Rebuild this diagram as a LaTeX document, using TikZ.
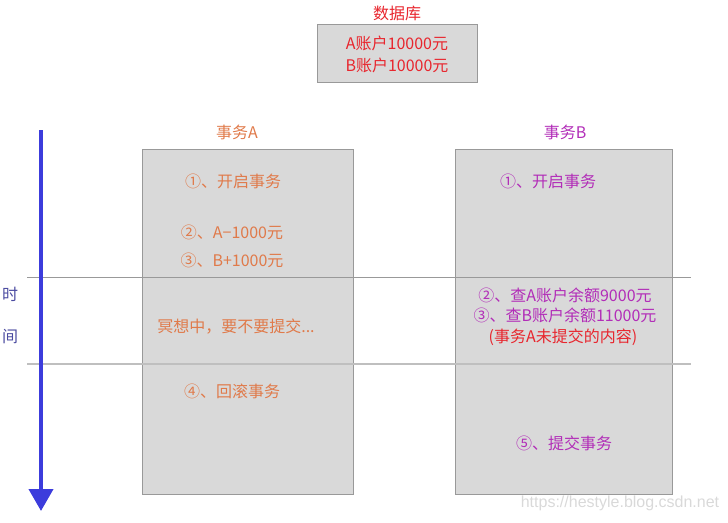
\documentclass[tikz,border=0pt]{standalone}
\usepackage{fontspec}
\setmainfont{Noto Sans CJK SC}
\newfontfamily\wmfont{Liberation Sans}
\usetikzlibrary{arrows.meta}
\definecolor{boxfill}{HTML}{D9D9D9}
\definecolor{boxline}{HTML}{999999}
\definecolor{txtred}{HTML}{E8262E}
\definecolor{txtorange}{HTML}{E07A4A}
\definecolor{txtpurple}{HTML}{B22DB8}
\definecolor{arrowblue}{HTML}{3C3CDC}
\definecolor{timetxt}{HTML}{4A4AA0}
\begin{document}
\begin{tikzpicture}[x=1pt,y=-1pt,
  panel/.style={draw=boxline,fill=boxfill,line width=1pt,inner sep=0pt,anchor=north west},
  lbl/.style={font=\fontsize{16}{19}\selectfont,inner sep=0pt},
  orangetxt/.style={lbl,text=txtorange},
  purpletxt/.style={lbl,text=txtpurple},
  redtxt/.style={lbl,text=txtred}]
\useasboundingbox (0,0) rectangle (728,522);
% database
\node[redtxt] (dbtitle) at (397,13) {数据库};
\node[panel,minimum width=160pt,minimum height=58pt] (db) at (317,24) {};
\node[redtxt] (dba) at (397,43) {A账户10000元};
\node[redtxt] (dbb) at (397,65) {B账户10000元};
% transaction panels
\node[orangetxt] (ta) at (237,132) {事务A};
\node[purpletxt] (tb) at (565,132) {事务B};
\node[panel,minimum width=211pt,minimum height=345pt] (boxa) at (142,149) {};
\node[panel,minimum width=217pt,minimum height=345pt] (boxb) at (455,149) {};
% separator lines
\coordinate (l1s) at (27,277); \coordinate (l1e) at (691,277);
\coordinate (l2s) at (27,364); \coordinate (l2e) at (691,364);
\draw[boxline,line width=1pt] (l1s) -- (l1e);
\draw[color=black!25,line width=1.6pt] (l2s) -- (l2e);
% time arrow
\coordinate (ts) at (41,130); \coordinate (te) at (41,511);
\draw[arrowblue,line width=4pt,-{Triangle[length=22pt,width=24pt]}] (ts) -- (te);
\node[lbl,text=timetxt] (t1) at (10,294) {时};
\node[lbl,text=timetxt] (t2) at (10,337) {间};
% transaction A steps
\node[orangetxt] (a1) at (233,181) {①、开启事务};
\node[orangetxt] (a2) at (232,232) {②、A−1000元};
\node[orangetxt] (a3) at (232,260) {③、B+1000元};
\node[orangetxt] (a4) at (236,327) {冥想中，要不要提交...};
\node[orangetxt] (a5) at (232,391) {④、回滚事务};
% transaction B steps
\node[purpletxt] (b1) at (548,181) {①、开启事务};
\node[purpletxt] (b2) at (565,295) {②、查A账户余额9000元};
\node[purpletxt] (b3) at (565,315) {③、查B账户余额11000元};
\node[redtxt] (b4) at (563,337) {(事务A未提交的内容)};
\node[purpletxt] (b5) at (564,443) {⑤、提交事务};
% watermark
\node[inner sep=0pt,font=\wmfont\fontsize{16}{19}\selectfont,text=black!15] (wm) at (620,503) {https://hestyle.blog.csdn.net};
\end{tikzpicture}
\end{document}
